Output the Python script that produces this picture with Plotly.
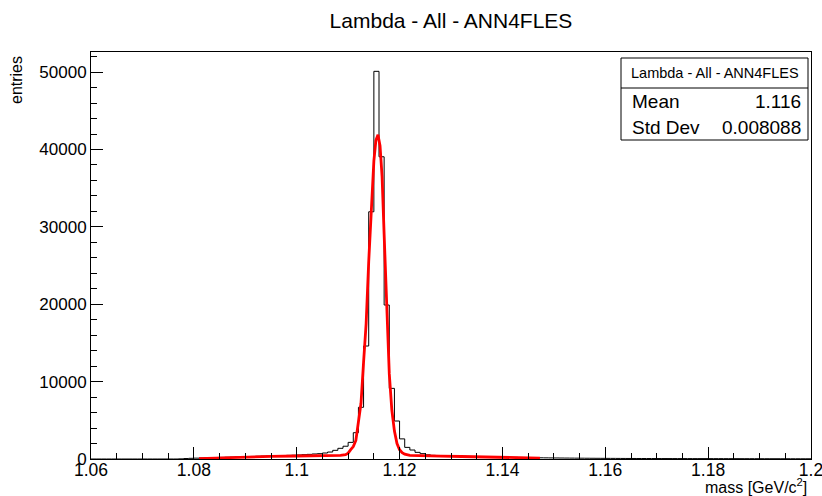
import numpy as np
import plotly.graph_objects as go

# ---------------- data ----------------
title_text = "Lambda - All - ANN4FLES"
x_label = "mass [GeV/c<sup>2</sup>]"
y_label = "entries"

bin_low = 1.06
bin_high = 1.20
n_bins = 140

counts = [0] * 17 + [
    20, 60, 90, 110, 130, 150, 170, 190, 210, 230,
    250, 270, 290, 310, 330, 350, 370, 390, 410, 430,
    450, 470, 490, 520,
    560, 600, 650, 690, 775, 900, 1120, 1380, 1650, 2150, 3400, 6680,
    14600, 31950, 50100, 39060, 19900, 9130, 4910, 2600,
    1500, 1160, 860, 690, 540,
    470, 440, 420, 400, 380, 360, 345, 330, 315, 300,
    285, 270, 258, 245, 232, 220, 208, 196, 185, 175,
    165, 156, 148, 140, 133, 126, 120, 114, 108, 103,
    98, 94, 90, 86, 82, 79, 76, 73, 70, 68,
    66, 64, 62, 60, 58, 57, 56, 55, 54, 53,
    52, 51, 50, 49, 48, 47, 46, 45, 44, 43,
    42, 41, 40, 39, 38, 37, 36, 35, 34, 33,
    32, 31, 30, 29,
]

fit_mass = [1.0810, 1.0850, 1.0900, 1.0950, 1.1000, 1.1040, 1.1070, 1.1085,
            1.1095, 1.1100, 1.1105, 1.1110, 1.1115, 1.1120, 1.1125, 1.1130,
            1.1135, 1.1140, 1.1145, 1.1150, 1.1154, 1.1158, 1.1162, 1.1166,
            1.1170, 1.1175, 1.1180, 1.1185, 1.1190, 1.1195, 1.1200, 1.1205,
            1.1210, 1.1220, 1.1240, 1.1280, 1.1320, 1.1360, 1.1400, 1.1440,
            1.1473]
fit_vals = [60, 150, 260, 340, 390, 420, 440, 480,
            560, 750, 1200, 1600, 2400, 4800, 7200, 12500,
            17500, 25500, 33000, 38500, 41200, 41900, 40500, 36500,
            29000, 19500, 11000, 6300, 3600, 2000, 1200, 820,
            620, 480, 420, 380, 320, 255, 200, 150,
            120]

x_tick_vals = [1.06, 1.08, 1.10, 1.12, 1.14, 1.16, 1.18, 1.20]
x_tick_text = ["1.06", "1.08", "1.1", "1.12", "1.14", "1.16", "1.18", "1.2"]
y_tick_vals = [0, 10000, 20000, 30000, 40000, 50000]
y_tick_text = ["0", "10000", "20000", "30000", "40000", "50000"]

stat_names = ["Mean", "Std Dev"]
stat_values = ["1.116", "0.008088"]

# ---------------- figure ----------------
W, H = 822, 496
L, R, T, B = 91, 11, 52, 37
PW, PH = W - L - R, H - T - B


def px(xp):
    return (xp - L) / PW


def py(yp):
    return (H - B - yp) / PH


edges = np.linspace(bin_low, bin_high, n_bins + 1)
step_x = list(edges)
step_y = list(counts) + [counts[-1]]

fig = go.Figure()
fig.add_trace(go.Scatter(x=step_x, y=step_y, mode="lines", line_shape="hv",
                         line=dict(color="black", width=1), showlegend=False,
                         hoverinfo="skip"))
fig.add_trace(go.Scatter(x=fit_mass, y=fit_vals, mode="lines",
                         line=dict(color="#ff0000", width=2.8), showlegend=False,
                         hoverinfo="skip"))

font_family = "Liberation Sans, Arial, Helvetica, sans-serif"

fig.update_layout(
    width=W, height=H,
    margin=dict(l=L, r=R, t=T, b=B, autoexpand=False),
    paper_bgcolor="white", plot_bgcolor="white",
    font=dict(family=font_family, color="black"),
    title=dict(text=title_text, font=dict(size=21, color="black"),
               xref="container", x=451 / W, xanchor="center",
               yref="container", y=1 - 21 / H, yanchor="middle"),
)

fig.update_xaxes(
    range=[bin_low, bin_high], showgrid=False, zeroline=False, automargin=False,
    showline=True, linecolor="black", linewidth=1, mirror=True,
    tickmode="array", tickvals=x_tick_vals, ticktext=x_tick_text,
    ticks="inside", ticklen=12, tickcolor="black", tickwidth=1,
    tickfont=dict(size=17.5, color="black"),
    ticklabeloverflow="allow", ticklabelstandoff=-5,
    minor=dict(tickmode="linear", tick0=1.06, dtick=0.005, ticks="inside",
               ticklen=6, tickcolor="black", tickwidth=1, showgrid=False),
)
fig.update_yaxes(
    range=[0, 52600], showgrid=False, zeroline=False, automargin=False,
    showline=True, linecolor="black", linewidth=1, mirror=True,
    tickmode="array", tickvals=y_tick_vals, ticktext=y_tick_text,
    ticks="inside", ticklen=12, tickcolor="black", tickwidth=1,
    tickfont=dict(size=17, color="black"),
    ticklabeloverflow="allow",
    minor=dict(tickmode="linear", tick0=0, dtick=2000, ticks="inside",
               ticklen=6, tickcolor="black", tickwidth=1, showgrid=False),
)

annotations = [
    dict(text=y_label, textangle=-90, xref="paper", yref="paper",
         x=px(16), y=py(54), xanchor="center", yanchor="top",
         showarrow=False, font=dict(size=16, color="black")),
    dict(text=x_label, xref="paper", yref="paper",
         x=px(809), y=py(486), xanchor="right", yanchor="middle",
         showarrow=False, font=dict(size=16, color="black")),
]

# stats box
bx0, bx1, by0, by1, bdiv = 621, 808, 58, 140, 88
fig.add_shape(type="rect", xref="paper", yref="paper",
              x0=px(bx0), x1=px(bx1), y0=py(by1), y1=py(by0),
              line=dict(color="black", width=1), fillcolor="white", layer="above")
fig.add_shape(type="line", xref="paper", yref="paper",
              x0=px(bx0), x1=px(bx1), y0=py(bdiv), y1=py(bdiv),
              line=dict(color="black", width=1), layer="above")
annotations.append(dict(text=title_text, xref="paper", yref="paper",
                        x=px((bx0 + bx1) / 2), y=py(73), xanchor="center",
                        yanchor="middle", showarrow=False,
                        font=dict(size=14.5, color="black")))
row_y = [101.5, 127]
for name, val, ry in zip(stat_names, stat_values, row_y):
    annotations.append(dict(text=name, xref="paper", yref="paper",
                            x=px(630), y=py(ry), xanchor="left", yanchor="middle",
                            showarrow=False, font=dict(size=19, color="black")))
    annotations.append(dict(text=val, xref="paper", yref="paper",
                            x=px(803), y=py(ry), xanchor="right", yanchor="middle",
                            showarrow=False, font=dict(size=19, color="black")))

fig.update_layout(annotations=annotations)

fig.write_html("out.html")
